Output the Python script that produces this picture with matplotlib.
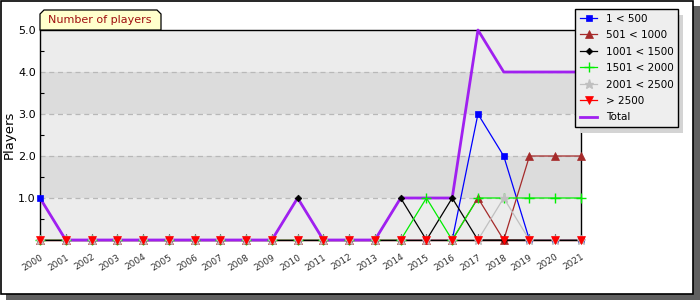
import matplotlib
matplotlib.use("Agg")
import matplotlib.pyplot as plt
from matplotlib.patches import Rectangle, Polygon
from matplotlib.ticker import MultipleLocator, FixedLocator

years = list(range(2000, 2022))
tick_labels = [str(y) for y in years]

s_1_500      = [1,0,0,0,0,0,0,0,0,0,0,0,0,0,0,0,0,3,2,0,0,0]
s_501_1000   = [0,0,0,0,0,0,0,0,0,0,0,0,0,0,0,0,0,1,0,2,2,2]
s_1001_1500  = [0,0,0,0,0,0,0,0,0,0,1,0,0,0,1,0,1,0,0,0,0,0]
s_1501_2000  = [0,0,0,0,0,0,0,0,0,0,0,0,0,0,0,1,0,1,1,1,1,1]
s_2001_2500  = [0,0,0,0,0,0,0,0,0,0,0,0,0,0,0,0,0,0,1,0,0,0]
s_gt_2500    = [0,0,0,0,0,0,0,0,0,0,0,0,0,0,0,0,0,0,0,0,0,0]
s_total      = [1,0,0,0,0,0,0,0,0,0,1,0,0,0,1,1,1,5,4,4,4,4]

series_labels = ["1 < 500", "501 < 1000", "1001 < 1500", "1501 < 2000",
                 "2001 < 2500", "> 2500", "Total"]

W, H = 700, 300
fig = plt.figure(figsize=(7, 3), dpi=100)
fig.patch.set_facecolor("white")

def fx(px): return px / W
def fy(py): return 1 - py / H

# outer frame with shadow
fig.patches.append(Rectangle((fx(6), fy(300)), fx(694), 294 / H, transform=fig.transFigure,
                             facecolor="#606060", edgecolor="none", zorder=-5))
fig.patches.append(Rectangle((fx(0.5), fy(293.5)), fx(692.5), 293 / H, transform=fig.transFigure,
                             facecolor="white", edgecolor="black", linewidth=1.2, zorder=-4))

ax = fig.add_axes([fx(40), fy(240), fx(581 - 40), (240 - 30) / H])
ax.set_zorder(1)
ax.set_facecolor("#ececec")
ax.set_xlim(2000, 2021)
ax.set_ylim(0, 5)
for lo in (1, 3):
    ax.axhspan(lo, lo + 1, color="#dcdcdc", zorder=0, lw=0)
for g in (1, 2, 3, 4):
    ax.axhline(g, color="#b8b8b8", lw=0.9, ls=(0, (4, 3)), zorder=0.5)

ax.yaxis.set_major_locator(FixedLocator([1, 2, 3, 4, 5]))
ax.set_yticklabels(["1.0", "2.0", "3.0", "4.0", "5.0"])
ax.yaxis.set_minor_locator(MultipleLocator(0.5))
ax.tick_params(axis="y", which="major", length=0, labelsize=8, pad=3)
ax.tick_params(axis="y", which="minor", direction="in", length=3, width=0.8)
ax.set_xticks(years)
ax.set_xticklabels(tick_labels, rotation=32, ha="right", va="top",
                   rotation_mode="anchor", fontsize=6.5, color="#333333")
ax.tick_params(axis="x", direction="in", length=4, width=0.8, pad=9)
for sp in ax.spines.values():
    sp.set_linewidth(1.0)
    sp.set_zorder(4.5)
ax.set_ylabel("Players", fontsize=9.5, labelpad=2)

styles = [
    (s_1_500, "#0000ff", "s", 4.8),
    (s_501_1000, "#a52a2a", "^", 5.8),
    (s_1001_1500, "#000000", "D", 3.4),
    (s_1501_2000, "#00ee00", "+", 7),
    (s_2001_2500, "#c0c0c0", "*", 6.5),
    (s_gt_2500, "#ff0000", "v", 5.8),
]
handles = []
for i, (vals, col, mk, ms) in enumerate(styles):
    mew = 1.0 if mk in "+*" else 0.5
    # line
    ax.plot(years, vals, color=col, lw=0.9, clip_on=False, zorder=3 + i * 0.1)
    # markers on top of all lines
    ax.plot(years, vals, ls="none", marker=mk, markersize=ms, color=col,
            markeredgewidth=mew, markeredgecolor=col, clip_on=False, zorder=6 + i * 0.1)
    # legend proxy
    h, = ax.plot([], [], color=col, lw=0.9, marker=mk, markersize=ms,
                 markeredgewidth=mew, markeredgecolor=col, label=series_labels[i])
    handles.append(h)
h, = ax.plot(years, s_total, color="#a020f0", lw=2.0, clip_on=False, zorder=5,
             label=series_labels[6])
handles.append(h)

# title tab
tab = Polygon([(fx(40), fy(30)), (fx(40), fy(14)), (fx(44), fy(10)), (fx(157), fy(10)),
               (fx(161), fy(14)), (fx(161), fy(30))], closed=True,
              transform=fig.transFigure, facecolor="#ffffcc", edgecolor="black", lw=0.9,
              zorder=2)
fig.patches.append(tab)
fig.text(fx(48), fy(20), "Number of players", color="#a01010", fontsize=8,
         va="center", ha="left", zorder=3)

leg = fig.legend(handles=handles, loc="upper left",
                 bbox_to_anchor=(fx(575), fy(9)), bbox_transform=fig.transFigure,
                 fontsize=7.5, frameon=True, fancybox=False, framealpha=1,
                 facecolor="#eeeeee", edgecolor="black", borderpad=0.45,
                 labelspacing=0.62, handlelength=1.7, handletextpad=0.8,
                 borderaxespad=0)
leg.get_frame().set_linewidth(1.0)
leg.set_zorder(10)

# legend shadow sized from the drawn legend
fig.canvas.draw()
bb = leg.get_window_extent().transformed(fig.transFigure.inverted())
fig.patches.append(Rectangle((bb.x0 + fx(5), bb.y0 - 6 / H), bb.width, bb.height,
                             transform=fig.transFigure, facecolor="#d4d4d4",
                             edgecolor="none", zorder=5))

fig.savefig("out.png", dpi=100)
